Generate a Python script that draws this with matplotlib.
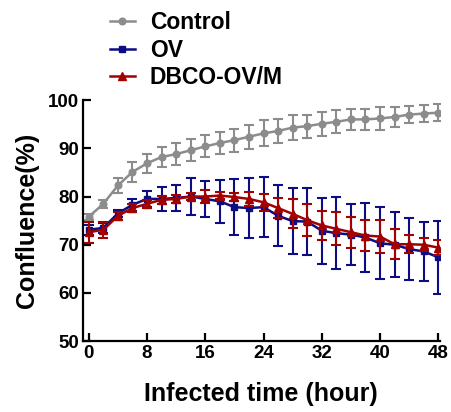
import matplotlib
matplotlib.use("Agg")
import matplotlib.pyplot as plt
import numpy as np

plt.rcParams["font.family"] = ["Liberation Sans", "DejaVu Sans"]
plt.rcParams["font.weight"] = "bold"

# hours post infection, sampled every 2 h
hours = np.arange(0, 50, 2)

control_mean = [75.8, 78.5, 82.3, 85.1, 86.9, 88.2, 88.8, 89.6, 90.4, 91.1, 91.7, 92.4, 93.1,
                93.6, 94.3, 94.6, 95.1, 95.5, 96.0, 96.0, 96.2, 96.5, 97.0, 97.2, 97.4]
control_err = [0.6, 0.8, 1.5, 2.0, 2.0, 2.1, 2.3, 2.3, 2.3, 2.2, 2.4, 2.5, 2.7,
               2.5, 2.6, 2.4, 2.5, 2.4, 2.2, 2.2, 2.4, 2.0, 1.8, 1.7, 1.7]

ov_mean = [73.1, 73.5, 76.5, 78.3, 79.5, 79.5, 79.7, 80.0, 79.5, 79.0, 77.8, 77.6, 77.8,
           76.0, 74.9, 74.8, 72.9, 72.4, 72.1, 71.5, 70.3, 70.0, 69.1, 68.6, 67.4]
ov_err = [1.0, 1.0, 0.8, 1.2, 1.7, 2.4, 2.7, 3.9, 3.7, 4.5, 5.8, 6.3, 6.2,
          6.3, 6.9, 6.9, 6.8, 7.5, 6.4, 7.2, 7.5, 6.7, 6.4, 6.2, 7.6]

dbco_mean = [72.6, 73.1, 76.0, 77.6, 78.5, 79.3, 79.5, 80.0, 80.0, 80.2, 79.9, 79.5, 78.8,
             77.6, 76.4, 75.1, 74.0, 73.3, 72.6, 71.9, 71.7, 70.1, 70.1, 70.0, 69.4]
dbco_err = [2.2, 1.7, 0.8, 0.8, 0.8, 0.8, 0.9, 0.8, 1.3, 0.8, 0.9, 1.5, 1.7,
            2.1, 3.0, 3.3, 3.1, 3.4, 3.2, 3.3, 3.5, 3.1, 1.9, 1.4, 1.5]

series = [
    ("Control", control_mean, control_err, "#8c8c8c", "o", 4.8),
    ("OV", ov_mean, ov_err, "#0c0c85", "s", 4.6),
    ("DBCO-OV/M", dbco_mean, dbco_err, "#a30000", "^", 5.4),
]

fig = plt.figure(figsize=(4.51, 4.12), dpi=100)
ax = fig.add_axes([0.184, 0.172, 0.791, 0.585])

handles = []
for name, mean, err, color, marker, ms in series:
    ax.errorbar(hours, mean, yerr=err, fmt="none", ecolor=color,
                elinewidth=1.5, capsize=3.5, capthick=1.5)
    line, = ax.plot(hours, mean, color=color, marker=marker, markersize=ms,
                    linewidth=1.8, label=name)
    handles.append(line)

ax.set_xlim(-0.8, 48.2)
ax.set_ylim(50, 100)
ax.set_xticks(np.arange(0, 49, 8))
ax.set_yticks(np.arange(50, 101, 10))

for side in ["top", "right"]:
    ax.spines[side].set_visible(False)
for side in ["left", "bottom"]:
    ax.spines[side].set_linewidth(1.6)
ax.tick_params(direction="in", length=6, width=1.6, labelsize=13.5, pad=3)

ax.set_xlabel("Infected time (hour)", fontsize=18, fontweight="bold", labelpad=14)
ax.set_ylabel("Confluence(%)", fontsize=18, fontweight="bold", labelpad=6)

fig.legend(handles=handles, loc="upper left", bbox_to_anchor=(0.223, 0.995),
           frameon=False, fontsize=16.5, handlelength=1.1, handletextpad=0.65,
           labelspacing=0.2, borderaxespad=0)

fig.savefig("out.png", dpi=100)
